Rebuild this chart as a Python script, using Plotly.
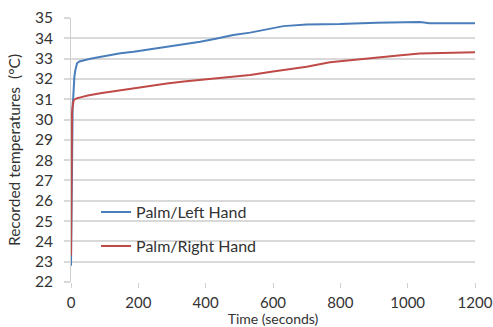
import plotly.graph_objects as go

# Palm / Left hand (blue)
t_left = [0, 1, 2, 3, 4, 5, 6.4, 8, 10, 13, 18, 25, 35, 48, 65, 87, 115, 147, 186, 235, 285,
          335, 384, 430, 482, 532, 580, 631, 700, 798, 907, 1036, 1065, 1130, 1200]
left = [22.8, 24.2, 27.0, 29.5, 30.4, 30.8, 31.0, 31.6, 32.1, 32.44, 32.77, 32.86, 32.92, 32.96, 33.02, 33.09,
        33.18, 33.26, 33.34, 33.46, 33.59, 33.71, 33.83, 33.98, 34.16, 34.28, 34.45, 34.6, 34.68,
        34.7, 34.77, 34.8, 34.74, 34.74, 34.74]

# Palm / Right hand (red)
t_right = [0, 0.5, 1, 1.5, 2, 3, 4, 5, 8, 12, 18, 28, 50, 87, 130, 186, 235, 285, 335, 384,
           430, 473, 532, 600, 700, 769, 840, 917, 980, 1036, 1100, 1200]
right = [23.3, 25.5, 27.8, 29.0, 29.8, 30.3, 30.55, 30.7, 30.95, 31.0, 31.05, 31.09, 31.18, 31.29, 31.4,
         31.54, 31.66, 31.78, 31.87, 31.95, 32.02, 32.07, 32.19, 32.36, 32.6, 32.82, 32.95, 33.06,
         33.17, 33.25, 33.28, 33.31]

x_ticks = [0, 200, 400, 600, 800, 1000, 1200]
y_ticks = list(range(22, 36))

FONT = "Lato, 'Open Sans', sans-serif"
TXT = "#333333"

fig = go.Figure()
fig.add_trace(go.Scatter(x=t_left, y=left, mode="lines", name="Palm/Left Hand", legendgroup="a",
                         line=dict(color="#4a7ebb", width=2)))
fig.add_trace(go.Scatter(x=t_right, y=right, mode="lines", name="Palm/Right Hand", legendgroup="b",
                         line=dict(color="#be4b48", width=2)))

fig.update_layout(
    width=493, height=327,
    margin=dict(l=71, r=18, t=18, b=45),
    paper_bgcolor="white", plot_bgcolor="white",
    font=dict(family=FONT, size=15, color=TXT),
    showlegend=True,
    legend=dict(x=0.062, y=0.2, xanchor="left", yanchor="middle", traceorder="grouped",
                bgcolor="rgba(0,0,0,0)", font=dict(size=16, color=TXT),
                itemwidth=30, tracegroupgap=10),
    xaxis=dict(range=[0, 1200], tickvals=x_ticks, showgrid=False, zeroline=False, automargin=False,
               ticks="outside", ticklen=5, tickcolor="#d0d0d0", ticklabeloverflow="allow",
               showline=False, ticklabelstandoff=2, tickfont=dict(size=15),
               title=dict(text="Time (seconds)", standoff=2, font=dict(size=14))),
    yaxis=dict(range=[22, 35], tickvals=y_ticks, showgrid=True, gridcolor="#d9d9d9", gridwidth=2,
               zeroline=False, ticks="outside", ticklen=6, tickcolor="#d9d9d9", tickwidth=2,
               automargin=False, tickfont=dict(size=15.5), ticklabeloverflow="allow",
               showline=True, linecolor="#cfcfcf", linewidth=1, ticklabelstandoff=8,
               title=dict(text="Recorded temperatures  (°C)", standoff=10, font=dict(size=15.5))),
)

fig.write_html("out.html", config={"displayModeBar": False},
               post_script="document.body.style.margin='0';document.body.style.overflow='hidden';")
